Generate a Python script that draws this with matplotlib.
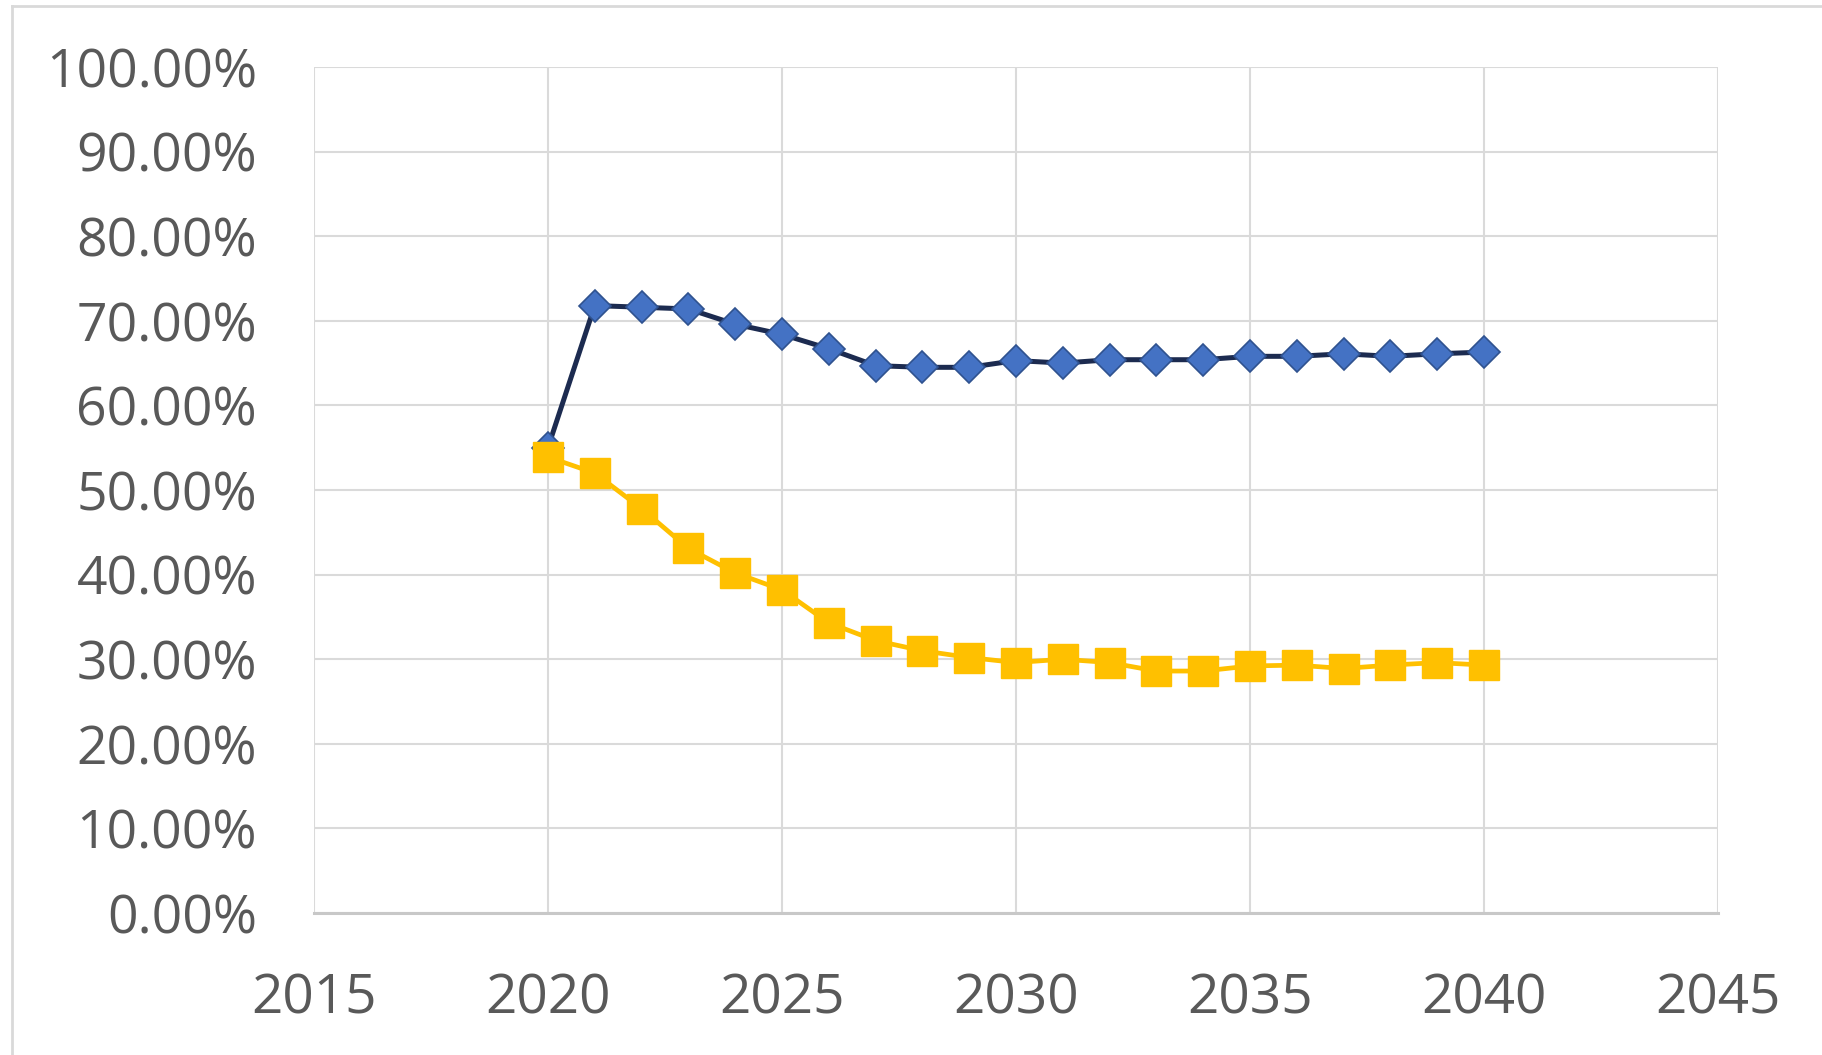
import matplotlib.pyplot as plt
from matplotlib.ticker import FuncFormatter, MultipleLocator
from matplotlib.lines import Line2D

# yearly shares, in percent
years = list(range(2020, 2041))
blue_vals = [55.0, 71.8, 71.6, 71.4, 69.6, 68.4, 66.7, 64.7, 64.5, 64.5, 65.3,
             65.0, 65.4, 65.4, 65.4, 65.8, 65.8, 66.1, 65.8, 66.1, 66.3]
yellow_vals = [53.9, 52.0, 47.8, 43.1, 40.2, 38.2, 34.3, 32.2, 31.0, 30.2, 29.6,
               30.0, 29.6, 28.6, 28.6, 29.2, 29.3, 28.9, 29.3, 29.6, 29.3]

fig = plt.figure(figsize=(18.22, 10.55), dpi=100)
ax = fig.add_axes([0.1723, 0.1346, 0.7706, 0.8019])

ax.plot(years, blue_vals, color='#1c2b50', lw=3.6, marker='D', ms=16,
        markerfacecolor='#4472c4', markeredgecolor='#2f528f', markeredgewidth=1.2,
        zorder=3)
ax.plot(years, yellow_vals, color='#ffc000', lw=3.4, marker='s', ms=22,
        markerfacecolor='#ffc000', markeredgecolor='#ffc000', zorder=4)

ax.set_xlim(2015, 2045)
ax.set_ylim(0, 100)
ax.xaxis.set_major_locator(MultipleLocator(5))
ax.yaxis.set_major_locator(MultipleLocator(10))
ax.yaxis.set_major_formatter(FuncFormatter(lambda v, p: f'{v:.2f}%'))

ax.grid(True, color='#dadada', lw=1.5)
ax.set_axisbelow(True)
for s in ['top', 'right', 'left']:
    ax.spines[s].set_visible(False)
ax.spines['bottom'].set_color('#c8c8c8')
ax.spines['bottom'].set_linewidth(2.2)

ax.tick_params(length=0, colors='#595959')
ax.tick_params(axis='y', pad=41, labelsize=38.5)
ax.tick_params(axis='x', pad=42, labelsize=39.5)
for lab in ax.get_xticklabels() + ax.get_yticklabels():
    lab.set_family('Open Sans')

# thin outer frame along top and left
fig.add_artist(Line2D([12 / 1822, 1.0], [1 - 6 / 1055, 1 - 6 / 1055],
                      transform=fig.transFigure, color='#d9d9d9', lw=2))
fig.add_artist(Line2D([12 / 1822, 12 / 1822], [0, 1 - 6 / 1055],
                      transform=fig.transFigure, color='#d9d9d9', lw=2))

fig.savefig('out.png', dpi=100)
